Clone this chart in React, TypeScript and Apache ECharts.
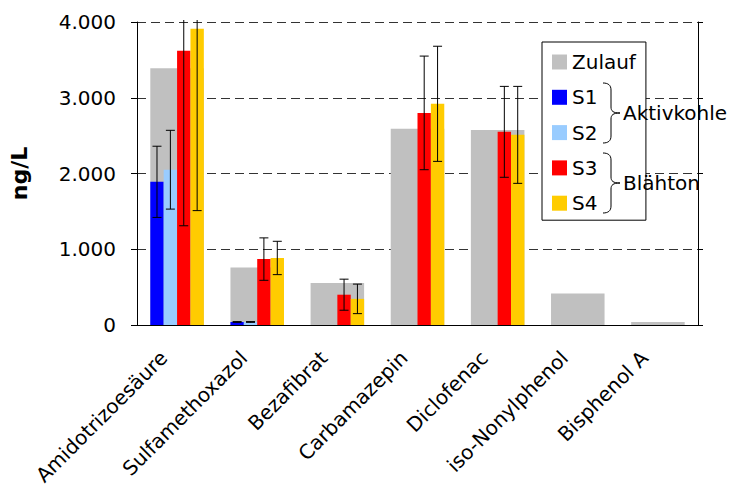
import React, { useEffect, useRef } from "react";
import * as echarts from "echarts";

const categories = [
  "Amidotrizoesäure",
  "Sulfamethoxazol",
  "Bezafibrat",
  "Carbamazepin",
  "Diclofenac",
  "iso-Nonylphenol",
  "Bisphenol A",
];
const zulauf = [3390, 760, 555, 2590, 2575, 415, 40];
const s1 = [1890, 40, null, null, null, null, null];
const s2 = [2050, 40, null, null, null, null, null];
const s3 = [3620, 870, 400, 2800, 2550, null, null];
const s4 = [3910, 885, 345, 2920, 2510, null, null];
const s1Err = [470, 5, null, null, null, null, null];
const s2Err = [520, 5, null, null, null, null, null];
const s3Err = [2310, 280, 205, 750, 600, null, null];
const s4Err = [2400, 220, 195, 760, 640, null, null];
const yTicks = [0, 1000, 2000, 3000, 4000];

const FONT = "'DejaVu Sans', Arial, sans-serif";
const FS = 20;
const CAT_GAP = 0.332;

const bracePath =
  "M0,0 C5,0 8,2 8,7 L8,24 C8,28 10,30 17,30 C10,30 8,32 8,36 L8,53 C8,58 5,60 0,60";

export default function App() {
  const ref = useRef<HTMLDivElement>(null);
  useEffect(() => {
    if (!ref.current) return;
    echarts.graphic.registerShape("brace", echarts.graphic.extendPath(bracePath, {}) as any);
    const chart = echarts.init(ref.current, null, { renderer: "svg" });

    const errSeries = (name: string, vals: (number | null)[], errs: (number | null)[], idx: number) => ({
      type: "custom",
      name: name + " err",
      xAxisIndex: 0,
      yAxisIndex: 0,
      z: 10,
      silent: true,
      encode: { x: 0, y: 1 },
      data: vals
        .map((v, i) => (v == null || errs[i] == null ? null : [i, v, errs[i]]))
        .filter((d) => d != null),
      renderItem: (params: any, api: any) => {
        const cat = api.value(0);
        const v = api.value(1);
        const e = api.value(2);
        const band = api.size([1, 0])[0];
        const barW = (band * (1 - CAT_GAP)) / 4;
        const cx = api.coord([cat, v])[0] + (idx - 1.5) * barW;
        const rawTop = api.coord([cat, v + e])[1];
        const topY = Math.max(rawTop, params.coordSys.y - 2);
        const botY = api.coord([cat, Math.max(v - e, 0)])[1];
        const hw = 4.5;
        const st = { stroke: "#000", lineWidth: 1 };
        const children: any[] = [
          { type: "line", shape: { x1: cx, y1: topY, x2: cx, y2: botY }, style: st },
          { type: "line", shape: { x1: cx - hw, y1: botY, x2: cx + hw, y2: botY }, style: st },
        ];
        if (rawTop >= params.coordSys.y - 2) {
          children.push({ type: "line", shape: { x1: cx - hw, y1: topY, x2: cx + hw, y2: topY }, style: st });
        }
        return { type: "group", children };
      },
    });

    const barS = (name: string, data: (number | null)[], color: string) => ({
      type: "bar",
      name,
      xAxisIndex: 0,
      yAxisIndex: 0,
      data,
      z: 3,
      barGap: "0%",
      barCategoryGap: CAT_GAP * 100 + "%",
      itemStyle: { color },
    });

    chart.setOption({
      animation: false,
      textStyle: { fontFamily: FONT },
      grid: { left: 132, right: 35, top: 22, bottom: 169, containLabel: false },
      legend: {
        orient: "vertical",
        left: 542,
        top: 42,
        data: ["Zulauf", "S1", "S2", "S3", "S4"],
        icon: "rect",
        itemWidth: 15,
        itemHeight: 15,
        itemGap: 15.3,
        padding: [10, 10, 7, 10],
        borderColor: "#000",
        borderWidth: 1,
        backgroundColor: "#fff",
        selectedMode: false,
        textStyle: { fontSize: FS, color: "#000", fontFamily: FONT, lineHeight: 20 },
      },
      xAxis: [
        {
          type: "category",
          data: categories,
          position: "bottom",
          axisLine: { lineStyle: { color: "#000", width: 1 } },
          axisTick: { length: 8, lineStyle: { color: "#000" } },
          axisLabel: {
            rotate: 45,
            fontSize: FS,
            color: "#000",
            fontFamily: FONT,
            margin: 16,
            padding: [0, 19, 0, 0],
            interval: 0,
          },
        },
        { type: "category", data: categories, show: false, position: "bottom" },
      ],
      yAxis: [
        {
          type: "value",
          min: 0,
          max: 4000,
          interval: 1000,
          name: "ng/L",
          nameLocation: "middle",
          nameRotate: 90,
          nameGap: 107,
          nameTextStyle: { fontSize: 22, fontWeight: "bold", color: "#000", fontFamily: FONT },
          axisLine: { show: true, lineStyle: { color: "#000" } },
          axisTick: { show: true, length: 6, lineStyle: { color: "#000" } },
          axisLabel: {
            fontSize: FS,
            color: "#000",
            fontFamily: FONT,
            margin: 21,
            formatter: (v: number) => (yTicks.includes(v) ? v.toLocaleString("de-DE") : ""),
          },
          splitLine: { show: true, lineStyle: { color: "#333", type: [9, 5], width: 1 } },
        },
        {
          type: "value",
          position: "right",
          min: 0,
          max: 4000,
          interval: 1000,
          axisLine: { show: true, lineStyle: { color: "#000" } },
          axisTick: { show: true, length: 5, lineStyle: { color: "#000" } },
          axisLabel: { show: false },
          splitLine: { show: false },
        },
      ],
      series: [
        {
          type: "bar",
          name: "Zulauf",
          xAxisIndex: 1,
          yAxisIndex: 0,
          data: zulauf,
          z: 2,
          barCategoryGap: CAT_GAP * 100 + "%",
          itemStyle: { color: "#C0C0C0" },
        },
        barS("S1", s1, "#0000FF"),
        barS("S2", s2, "#99CCFF"),
        barS("S3", s3, "#FF0000"),
        barS("S4", s4, "#FFCC00"),
        errSeries("S1", s1, s1Err, 0),
        errSeries("S2", s2, s2Err, 1),
        errSeries("S3", s3, s3Err, 2),
        errSeries("S4", s4, s4Err, 3),
      ],
      graphic: [
        {
          type: "brace",
          x: 603,
          y: 83,
          style: { stroke: "#000", lineWidth: 1, fill: "none" },
          z: 100,
        },
        {
          type: "brace",
          x: 603,
          y: 153,
          style: { stroke: "#000", lineWidth: 1, fill: "none" },
          z: 100,
        },
        {
          type: "text",
          x: 623,
          y: 113,
          z: 100,
          style: { text: "Aktivkohle", fontSize: FS, fill: "#000", fontFamily: FONT, verticalAlign: "middle", align: "left" },
        },
        {
          type: "text",
          x: 623,
          y: 183,
          z: 100,
          style: { text: "Blähton", fontSize: FS, fill: "#000", fontFamily: FONT, verticalAlign: "middle", align: "left" },
        },
      ],
    });
    return () => chart.dispose();
  }, []);
  return (
    <div
      ref={ref}
      style={{ position: "fixed", left: 0, top: 0, width: 733, height: 494, background: "#fff" }}
    />
  );
}
